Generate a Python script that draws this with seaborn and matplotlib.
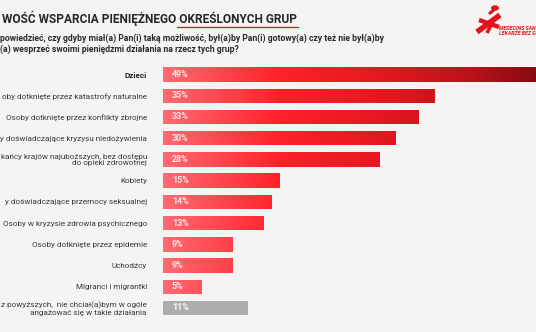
import numpy as np
import pandas as pd
import matplotlib
matplotlib.use("Agg")
import matplotlib.pyplot as plt
import seaborn as sns
from matplotlib.colors import LinearSegmentedColormap
from matplotlib.lines import Line2D

categories = [
    "Dzieci",
    "oby dotknięte przez katastrofy naturalne",
    "Osoby dotknięte przez konflikty zbrojne",
    "y doświadczające kryzysu niedożywienia",
    "kańcy krajów najuboższych, bez dostępu\ndo opieki zdrowotnej",
    "Kobiety",
    "y doświadczające przemocy seksualnej",
    "Osoby w kryzysie zdrowia psychicznego",
    "Osoby dotknięte przez epidemie",
    "Uchodźcy",
    "Migranci i migrantki",
    "z powyższych,  nie chciał(a)bym w ogóle\nangażować się w takie działania",
]
values = [49, 35, 33, 30, 28, 15, 14, 13, 9, 9, 5, 11]
is_none = [False] * 11 + [True]
title = "WOŚĆ WSPARCIA PIENIĘŻNEGO OKREŚLONYCH GRUP"
subtitle1 = "powiedzieć, czy gdyby miał(a) Pan(i) taką możliwość, był(a)by Pan(i) gotowy(a) czy też nie był(a)by"
subtitle2 = "(a) wesprzeć swoimi pieniędzmi działania na rzecz tych grup?"

W, H = 536, 332
sns.set_theme(style="white")
plt.rcParams['font.family'] = ['Roboto', 'DejaVu Sans']

fig = plt.figure(figsize=(W / 100, H / 100), dpi=100)
fig.patch.set_facecolor("#f4f4f2")

def fx(x):
    return x / W

def fy(y):
    return 1 - y / H

# axes geometry in pixels
x0 = 163
scale = 7.75  # px per percent
c0, c_last = 74.5, 308.0
step = (c_last - c0) / (len(categories) - 1)
top = c0 - step / 2
bot = c_last + step / 2
ax = fig.add_axes([fx(x0), fy(bot), fx(W - x0), (bot - top) / H])
ax.patch.set_alpha(0)

df = pd.DataFrame({"cat": categories, "val": values})
sns.barplot(data=df, x="val", y="cat", orient="h", ax=ax, width=0.68,
            color="#ff2028", saturation=1, edgecolor="none")
xmax = (W - x0) / scale
for s in ax.spines.values():
    s.set_visible(False)
ax.set_xticks([])
ax.set_xlabel("")
ax.set_ylabel("")

# gradient fill in absolute x
stops = [(0.0, "#ff6a72"), (0.3, "#ff2129"), (0.6, "#e0171e"), (0.8, "#b8121a"), (1.0, "#7c0a0f")]
cmap = LinearSegmentedColormap.from_list("msf", stops)
grad_end = 50.0
grad = np.linspace(0, 1, 256).reshape(1, -1)
for patch, none in zip(ax.patches, is_none):
    if none:
        patch.set_facecolor("#adadad")
        continue
    patch.set_facecolor("none")
    im = ax.imshow(grad, cmap=cmap, aspect="auto",
                   extent=[0, grad_end, patch.get_y() + patch.get_height(), patch.get_y()],
                   zorder=2)
    im.set_clip_path(patch)
ax.set_xlim(0, xmax)
ax.set_ylim(len(categories) - 0.5, -0.5)

# value labels
for i, v in enumerate(values):
    ax.text((172 - x0) / scale, i, f"{v}%", ha="left", va="center", fontsize=6.4,
            fontweight="bold", color="white", alpha=0.85 if not is_none[i] else 0.95, zorder=5)

# category labels
ax.set_yticks(range(len(categories)))
ax.set_yticklabels(categories, fontsize=5.85, color="#3a3a3a", linespacing=1.1)
ax.tick_params(axis="y", length=0, pad=(x0 - 147) * 0.72)
ax.get_yticklabels()[0].set_fontweight("bold")
ax.get_yticklabels()[0].set_color("#222222")

# title & subtitle
fig.text(fx(2), fy(18), title, fontsize=8.55, fontweight="bold", color="#262626",
         ha="left", va="center")
fig.add_artist(Line2D([fx(177), fx(298)], [fy(27), fy(27)], color="#d81e28", lw=1.0))
fig.text(fx(0), fy(38.5), subtitle1, fontsize=6.2, fontweight="bold", color="#2a2a2a",
         ha="left", va="center")
fig.text(fx(0), fy(49.5), subtitle2, fontsize=6.2, fontweight="bold", color="#2a2a2a",
         ha="left", va="center")

# logo (approximation)
red = "#e3131b"
for (xa, ya, xb, yb, lw) in [(477, 32, 500, 15, 4.0), (479, 20, 499, 27, 3.2),
                             (489, 14, 495, 9, 2.2), (492, 23, 487, 33, 2.6)]:
    fig.add_artist(Line2D([fx(xa), fx(xb)], [fy(ya), fy(yb)], color=red, lw=lw,
                          solid_capstyle="butt"))
fig.add_artist(plt.Circle((fx(495), fy(8)), 0.006, color=red, transform=fig.transFigure))
fig.text(fx(499), fy(28.5), "MEDECINS SAN", fontsize=3.8, fontweight="bold",
         style="italic", color=red, ha="left", va="center")
fig.text(fx(499), fy(33.5), "LEKARZE BEZ G", fontsize=3.8, fontweight="bold",
         style="italic", color=red, ha="left", va="center")

fig.savefig("out.png", dpi=100, facecolor=fig.get_facecolor())
